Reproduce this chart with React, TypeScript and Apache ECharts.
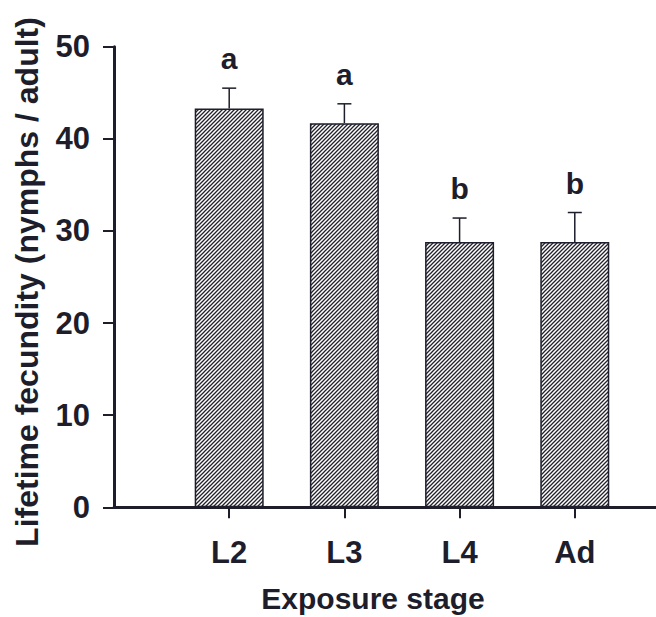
import React, { useEffect, useRef } from "react";
import * as echarts from "echarts";

// Lifetime fecundity by exposure stage
const categories = ["L2", "L3", "L4", "Ad"];
const positions = [1, 2, 3, 4];
const means = [43.3, 41.7, 28.8, 28.8];
const errors = [2.2, 2.1, 2.6, 3.2];
const letters = ["a", "a", "b", "b"];
const yTicks = [0, 10, 20, 30, 40, 50];

const INK = "#1d1d2b";
const FONT = "Liberation Sans, Arial, sans-serif";

// 4x4 tile with a "/" diagonal stroke used to hatch the bars
const hatchSvg =
  '<svg xmlns="http://www.w3.org/2000/svg" width="4" height="4">' +
  '<rect width="4" height="4" fill="#ffffff"/>' +
  '<path d="M-1,1 L1,-1 M0,4 L4,0 M3,5 L5,3" stroke="#22222b" stroke-width="1.3"/>' +
  "</svg>";
const hatchUrl = "data:image/svg+xml;base64," + btoa(hatchSvg);

export default function App() {
  const ref = useRef<HTMLDivElement>(null);

  useEffect(() => {
    if (!ref.current) return;
    const chart = echarts.init(ref.current, null, { renderer: "svg" });

    const barData = positions.map((p, i) => [p, means[i]]);
    const errData = positions.map((p, i) => [p, means[i], errors[i], i]);

    chart.setOption({
      animation: false,
      backgroundColor: "#ffffff",
      grid: { left: 114, right: 0, top: 46.7, bottom: 109.7, containLabel: false },
      xAxis: {
        type: "value",
        min: 0,
        max: 4.705,
        splitLine: { show: false },
        axisLine: { show: true, onZero: false, lineStyle: { color: INK, width: 3 } },
        axisTick: {
          show: true,
          customValues: positions,
          length: 11,
          lineStyle: { color: INK, width: 2 },
        },
        axisLabel: {
          show: true,
          customValues: positions,
          margin: 30,
          color: INK,
          fontFamily: FONT,
          fontWeight: "bold",
          fontSize: 31,
          formatter: (v: number) => categories[positions.indexOf(Math.round(v))] ?? "",
        },
      },
      yAxis: {
        type: "value",
        min: 0,
        max: 50,
        interval: 10,
        splitLine: { show: false },
        axisLine: { show: true, lineStyle: { color: INK, width: 3 } },
        axisTick: { show: true, length: 11, lineStyle: { color: INK, width: 2 } },
        axisLabel: {
          margin: 24,
          color: INK,
          fontFamily: FONT,
          fontWeight: "bold",
          fontSize: 31,
          formatter: (v: number) => (yTicks.includes(v) ? String(v) : ""),
        },
      },
      graphic: [
        {
          type: "text",
          x: 27,
          y: 282,
          rotation: Math.PI / 2,
          style: {
            text: "Lifetime fecundity (nymphs / adult)",
            fill: INK,
            font: `bold 32px ${FONT}`,
            align: "center",
            verticalAlign: "middle",
          },
        },
        {
          type: "text",
          x: 373,
          y: 598,
          style: {
            text: "Exposure stage",
            fill: INK,
            font: `bold 30px ${FONT}`,
            align: "center",
            verticalAlign: "middle",
          },
        },
      ],
      series: [
        {
          type: "bar",
          data: barData,
          barWidth: 69,
          itemStyle: {
            color: {
              image: hatchUrl,
              repeat: "repeat",
              imageWidth: 4,
              imageHeight: 4,
            } as any,
            borderColor: INK,
            borderWidth: 1.5,
          },
          z: 2,
        },
        {
          type: "custom",
          data: errData,
          encode: { x: 0, y: 1 },
          z: 3,
          renderItem: (_params: any, api: any) => {
            const x = api.value(0);
            const m = api.value(1);
            const e = api.value(2);
            const idx = api.value(3);
            const base = api.coord([x, m]);
            const top = api.coord([x, m + e]);
            const half = 7;
            return {
              type: "group",
              children: [
                {
                  type: "line",
                  shape: { x1: base[0], y1: base[1], x2: top[0], y2: top[1] },
                  style: { stroke: INK, lineWidth: 1.5 },
                },
                {
                  type: "line",
                  shape: { x1: top[0] - half, y1: top[1], x2: top[0] + half, y2: top[1] },
                  style: { stroke: INK, lineWidth: 1.5 },
                },
                {
                  type: "text",
                  x: top[0],
                  y: top[1] - 29.5,
                  style: {
                    text: letters[idx],
                    fill: INK,
                    font: `bold 30px ${FONT}`,
                    align: "center",
                    verticalAlign: "middle",
                  },
                },
              ],
            };
          },
        },
      ],
    });

    return () => chart.dispose();
  }, []);

  return (
    <div style={{ position: "fixed", left: 0, top: 0, width: 656, height: 617, background: "#ffffff" }}>
      <div ref={ref} style={{ width: 656, height: 617 }} />
    </div>
  );
}
